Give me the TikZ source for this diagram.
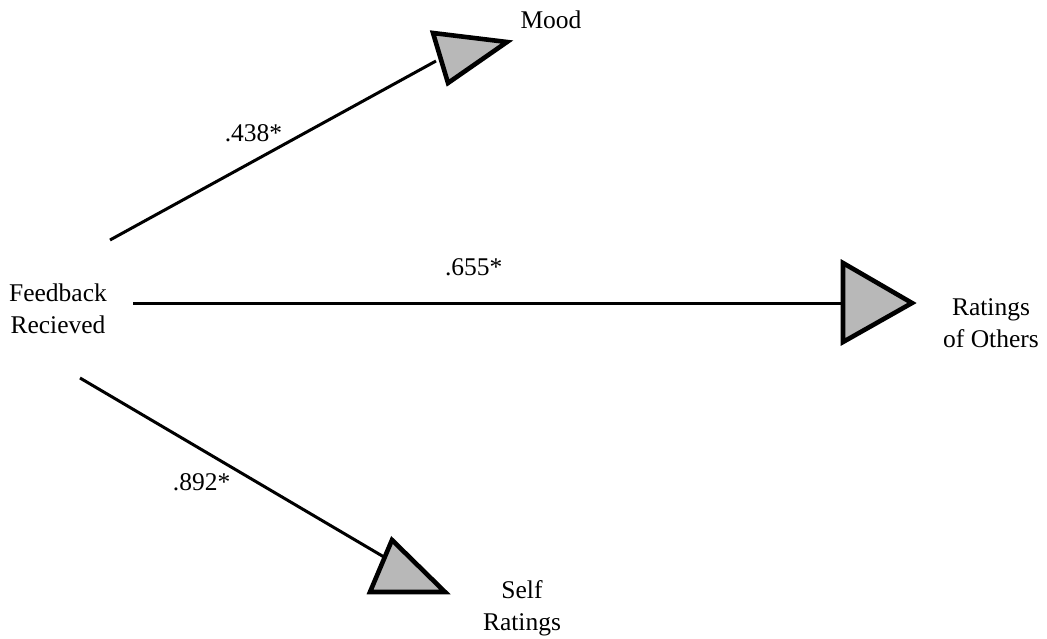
\documentclass[tikz,border=0pt]{standalone}
\usepackage{fontspec}
\setmainfont{Liberation Serif}
\begin{document}
\begin{tikzpicture}[x=1pt,y=-1pt,
  lbl/.style={font=\fontsize{25.5}{32}\selectfont, inner sep=0pt, align=center},
  conn/.style={line width=3pt},
  tri/.style={line width=4.6pt, line join=miter, fill=black!28}]
\useasboundingbox (0,0) rectangle (1047,639);
% texts
\node[lbl] (fb) at (58,309) {Feedback\\Recieved};
\node[lbl] (mood) at (551,20) {Mood};
\node[lbl] (others) at (991,323) {Ratings\\of Others};
\node[lbl] (self) at (522,608) {Self\\Ratings};
% triangles (arrow heads)
\coordinate (m1) at (433,33); \coordinate (m2) at (507,42); \coordinate (m3) at (448,83);
\coordinate (o1) at (843,263); \coordinate (o2) at (912,303); \coordinate (o3) at (843,342);
\coordinate (s1) at (392,540); \coordinate (s2) at (445,592); \coordinate (s3) at (370,592);
% connector start/end points
\coordinate (fm) at (110,240); \coordinate (me) at (436,61);
\coordinate (fo) at (133,303); \coordinate (oe) at (843,303);
\coordinate (fs) at (80,378);  \coordinate (se) at (384,557);
\draw[conn] (fm) -- (me) node[pos=0.44, above=18pt, lbl] (l1) {.438*};
\draw[conn] (fo) -- (oe) node[pos=0.48, above=26pt, lbl] (l2) {.655*};
\draw[conn] (fs) -- (se) node[pos=0.40, below=22pt, lbl] (l3) {.892*};
\draw[tri] (m1) -- (m2) -- (m3) -- cycle;
\draw[tri] (o1) -- (o2) -- (o3) -- cycle;
\draw[tri] (s1) -- (s2) -- (s3) -- cycle;
\end{tikzpicture}
\end{document}
